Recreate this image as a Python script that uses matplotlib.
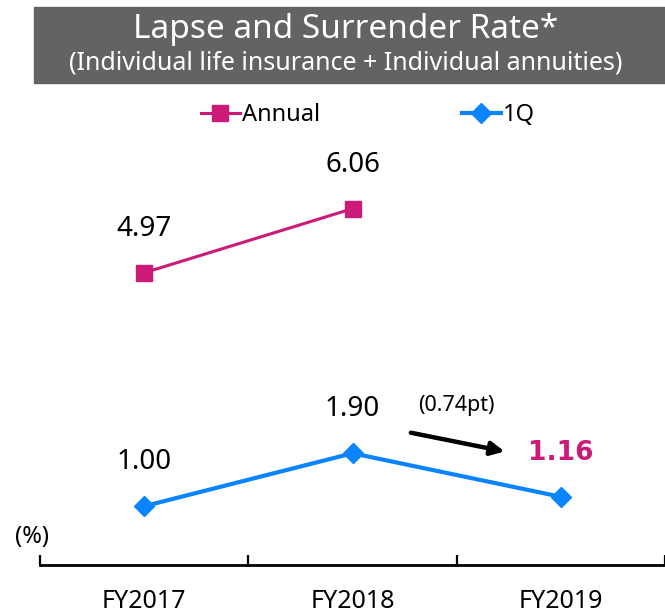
import matplotlib.pyplot as plt
from matplotlib.patches import Rectangle

plt.rcParams['font.family'] = ['Noto Sans', 'DejaVu Sans']

years = ['FY2017', 'FY2018', 'FY2019']
annual = [4.97, 6.06]
q1 = [1.00, 1.90, 1.16]
annual_labels = ['4.97', '6.06']
q1_labels = ['1.00', '1.90', '1.16']

pink = '#CC1A78'
blue = '#0A84FF'

W, H = 665, 613
fig = plt.figure(figsize=(W / 100, H / 100), dpi=100)

# axes: value 0 at y=565px, 58.8 px per unit, categories at x=145/357/567
ax = fig.add_axes([40 / W, (H - 565) / H, 1 - 40 / W, (565 - 150) / H])
ax.set_xlim(-0.5, 2.464)
ax.set_ylim(0, (565 - 150) / 58.8)

ax.plot(range(len(annual)), annual, color=pink, lw=2.2, marker='s', ms=11,
        label='Annual')
ax.plot(range(len(q1)), q1, color=blue, lw=3, marker='D', ms=10,
        label='1Q')

off = 44 * 0.72  # label offset above marker, in points
for i, (v, s) in enumerate(zip(annual, annual_labels)):
    ax.annotate(s, (i, v), xytext=(0, off), textcoords='offset points',
                ha='center', va='center', fontsize=20)
for i, (v, s) in enumerate(zip(q1, q1_labels)):
    if i == 2:
        ax.annotate(s, (i, v), xytext=(0, off), textcoords='offset points',
                    ha='center', va='center', fontsize=19, fontweight='bold',
                    color=pink, family='DejaVu Sans')
    else:
        ax.annotate(s, (i, v), xytext=(0, off), textcoords='offset points',
                    ha='center', va='center', fontsize=20)

# change arrow
ax.annotate('', xy=(1.73, 1.93), xytext=(1.28, 2.25),
            arrowprops=dict(arrowstyle='-|>', color='black', lw=3.2,
                            mutation_scale=20, shrinkA=0, shrinkB=0))
ax.text(1.5, (565 - 406) / 58.8, '(0.74pt)', ha='center', va='center',
        fontsize=15.5)

ax.set_xticks([-0.5, 0.5, 1.5, 2.5])
ax.set_xticklabels([])
ax.set_xticks(range(len(years)), minor=True)
ax.set_xticklabels(years, minor=True, fontsize=18)
ax.tick_params(axis='x', which='major', direction='in', length=7, width=1.6)
ax.tick_params(axis='x', which='minor', length=0, pad=17)
ax.set_yticks([])
for side in ['top', 'right', 'left']:
    ax.spines[side].set_visible(False)
ax.spines['bottom'].set_linewidth(2)

fig.text(32 / W, 1 - 537 / H, '(%)', ha='center', va='center', fontsize=17)

# title banner
fig.patches.append(Rectangle((34 / W, 1 - 83 / H), 1 - 34 / W, 76 / H,
                             transform=fig.transFigure, color='#636363',
                             zorder=0))
fig.text(346 / W, 1 - 29 / H, 'Lapse and Surrender Rate*', ha='center',
         va='center', fontsize=24, color='white')
fig.text(346 / W, 1 - 63 / H,
         '(Individual life insurance + Individual annuities)', ha='center',
         va='center', fontsize=18, color='white')

fig.legend(loc='center', bbox_to_anchor=(368 / W, 1 - 115 / H), ncol=2,
           frameon=False, fontsize=17, handlelength=1.65, handletextpad=0.1,
           columnspacing=6.0)

fig.savefig('out.png', dpi=100)
